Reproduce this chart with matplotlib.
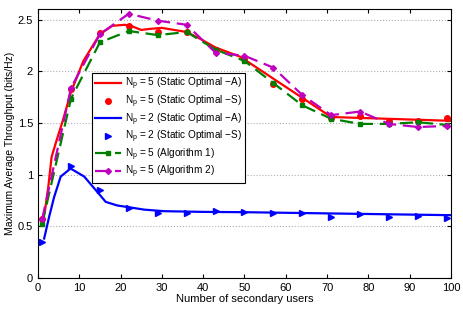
import numpy as np
import matplotlib
matplotlib.use("Agg")
import matplotlib.pyplot as plt

# sample points (number of secondary users)
users = [1, 8, 15, 22, 29, 36, 43, 50, 57, 64, 71, 78, 85, 92, 99]

# N_p = 5, static optimal, analytical curve
red_x = [1, 1.7, 2.5, 3.3, 4.5, 6, 8, 11, 15, 18, 21, 22.5, 25, 27, 30, 36, 39, 43, 49, 71, 100]
red_y = [0.55, 0.65, 0.88, 1.17, 1.33, 1.52, 1.8, 2.1, 2.36, 2.44, 2.45, 2.44, 2.40, 2.41, 2.42,
         2.38, 2.32, 2.23, 2.14, 1.557, 1.52]
# N_p = 5, static optimal, simulation
red_sim = [0.57, 1.83, 2.37, 2.44, 2.376, 2.38, 2.21, 2.12, 1.88, 1.73, 1.55, 1.564, 1.52, 1.52, 1.55]

# N_p = 2, static optimal, analytical curve
blue_x = [1.5, 2.7, 3.9, 5.5, 7.9, 11.2, 14.4, 16.4, 19.2, 22.5, 25.7, 30.4, 40, 50, 100]
blue_y = [0.38, 0.59, 0.78, 0.98, 1.058, 0.98, 0.83, 0.735, 0.70, 0.68, 0.66, 0.645, 0.638, 0.635, 0.606]
# N_p = 2, static optimal, simulation
blue_sim = [0.35, 1.08, 0.848, 0.677, 0.629, 0.632, 0.645, 0.638, 0.626, 0.626, 0.584, 0.616, 0.584,
            0.597, 0.58]

alg1 = [0.52, 1.735, 2.28, 2.39, 2.35, 2.38, 2.21, 2.10, 1.885, 1.67, 1.54, 1.49, 1.49, 1.506, 1.48]
alg2 = [0.565, 1.84, 2.36, 2.557, 2.49, 2.45, 2.18, 2.15, 2.035, 1.77, 1.575, 1.61, 1.49, 1.46, 1.47]

plt.rcParams['font.family'] = ['Liberation Sans', 'DejaVu Sans']
plt.rcParams['mathtext.fontset'] = 'custom'
plt.rcParams['mathtext.rm'] = 'Liberation Sans'

fig = plt.figure(figsize=(4.63, 3.10), dpi=100)
ax = fig.add_axes([0.082, 0.104, 0.892, 0.866])

ax.plot(red_x, red_y, color="red", lw=1.6, label=r"N$_\mathregular{p}$ = 5 (Static Optimal $-$A)")
ax.plot(users, red_sim, "o", color="red", ms=4, label=r"N$_\mathregular{p}$ = 5 (Static Optimal $-$S)")
ax.plot(blue_x, blue_y, color="blue", lw=1.6, label=r"N$_\mathregular{p}$ = 2 (Static Optimal $-$A)")
ax.plot(users, blue_sim, ">", color="blue", ms=4.5, label=r"N$_\mathregular{p}$ = 2 (Static Optimal $-$S)")
ax.plot(users, alg1, "--s", color="green", lw=1.6, ms=3, dashes=(6, 3),
        label=r"N$_\mathregular{p}$ = 5 (Algorithm 1)")
ax.plot(users, alg2, "--D", color="m", lw=1.6, ms=3, dashes=(6, 3),
        label=r"N$_\mathregular{p}$ = 5 (Algorithm 2)")

ax.set_xlim(0, 100)
ax.set_ylim(0, 2.6)
ax.set_xticks(np.arange(0, 101, 10))
ax.set_yticks([0, 0.5, 1, 1.5, 2, 2.5])
ax.set_yticklabels(["0", "0.5", "1", "1.5", "2", "2.5"])
ax.tick_params(direction="in", top=True, right=True, labelsize=8, length=3)
ax.yaxis.grid(True, linestyle=":", color="#b0b0b0", lw=0.8)
ax.set_xlabel("Number of secondary users", fontsize=8, labelpad=1)
ax.set_ylabel("Maximum Average Throughput (bits/Hz)", fontsize=7.5, labelpad=2)

leg = ax.legend(loc="upper left", bbox_to_anchor=(0.131, 0.763), fontsize=7.2, fancybox=False,
                edgecolor="black", framealpha=1, handlelength=2.6, borderpad=0.3,
                labelspacing=0.12, handletextpad=0.4, borderaxespad=0)
leg.get_frame().set_linewidth(0.8)

fig.savefig("out.png", dpi=100)
